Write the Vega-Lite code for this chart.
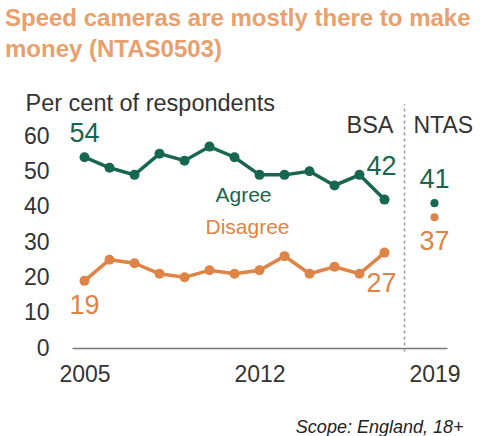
{
  "$schema": "https://vega.github.io/schema/vega-lite/v6.json",
  "width": 375,
  "height": 212,
  "autosize": {"type": "none"},
  "padding": {"left": 72, "top": 136, "right": 34, "bottom": 88},
  "title": {
    "text": ["Speed cameras are mostly there to make", "money (NTAS0503)"],
    "anchor": "start",
    "frame": "group",
    "dx": -67,
    "dy": -19,
    "offset": 10
  },
  "config": {
    "font": "Liberation Sans",
    "view": {"stroke": null},
    "title": {"font": "Liberation Sans", "fontSize": 24, "fontWeight": "bold", "color": "#E9A06C", "lineHeight": 31},
    "axis": {"labelFont": "Liberation Sans", "labelFontSize": 23, "labelColor": "#333333", "grid": false, "ticks": false, "titleFont": "Liberation Sans"}
  },
  "data": {
    "values": [
      {"year": 2005, "value": 54, "series": "Agree", "source": "BSA"},
      {"year": 2006, "value": 51, "series": "Agree", "source": "BSA"},
      {"year": 2007, "value": 49, "series": "Agree", "source": "BSA"},
      {"year": 2008, "value": 55, "series": "Agree", "source": "BSA"},
      {"year": 2009, "value": 53, "series": "Agree", "source": "BSA"},
      {"year": 2010, "value": 57, "series": "Agree", "source": "BSA"},
      {"year": 2011, "value": 54, "series": "Agree", "source": "BSA"},
      {"year": 2012, "value": 49, "series": "Agree", "source": "BSA"},
      {"year": 2013, "value": 49, "series": "Agree", "source": "BSA"},
      {"year": 2014, "value": 50, "series": "Agree", "source": "BSA"},
      {"year": 2015, "value": 46, "series": "Agree", "source": "BSA"},
      {"year": 2016, "value": 49, "series": "Agree", "source": "BSA"},
      {"year": 2017, "value": 42, "series": "Agree", "source": "BSA"},
      {"year": 2019, "value": 41, "series": "Agree", "source": "NTAS"},
      {"year": 2005, "value": 19, "series": "Disagree", "source": "BSA"},
      {"year": 2006, "value": 25, "series": "Disagree", "source": "BSA"},
      {"year": 2007, "value": 24, "series": "Disagree", "source": "BSA"},
      {"year": 2008, "value": 21, "series": "Disagree", "source": "BSA"},
      {"year": 2009, "value": 20, "series": "Disagree", "source": "BSA"},
      {"year": 2010, "value": 22, "series": "Disagree", "source": "BSA"},
      {"year": 2011, "value": 21, "series": "Disagree", "source": "BSA"},
      {"year": 2012, "value": 22, "series": "Disagree", "source": "BSA"},
      {"year": 2013, "value": 26, "series": "Disagree", "source": "BSA"},
      {"year": 2014, "value": 21, "series": "Disagree", "source": "BSA"},
      {"year": 2015, "value": 23, "series": "Disagree", "source": "BSA"},
      {"year": 2016, "value": 21, "series": "Disagree", "source": "BSA"},
      {"year": 2017, "value": 27, "series": "Disagree", "source": "BSA"},
      {"year": 2019, "value": 37, "series": "Disagree", "source": "NTAS"}
    ]
  },
  "encoding": {
    "x": {
      "field": "year", "type": "quantitative",
      "scale": {"domain": [2004.5, 2019.5], "nice": false, "zero": false},
      "axis": {
        "values": [2005, 2012, 2019], "format": "d", "labelFlush": false,
        "labelPadding": 15, "domainColor": "#777777", "domainWidth": 1.5,
        "title": "Scope: England, 18+", "titleFontStyle": "italic", "titleFontWeight": "normal",
        "titleFontSize": 18, "titleColor": "#222222", "titleAnchor": null, "titleAlign": "right",
        "titleBaseline": "middle", "titleX": 391, "titleY": 79
      }
    },
    "y": {
      "field": "value", "type": "quantitative",
      "scale": {"domain": [0, 60], "nice": false},
      "axis": {
        "values": [0, 10, 20, 30, 40, 50, 60], "domain": false, "labelPadding": 23,
        "title": "Per cent of respondents", "titleAngle": 0, "titleAlign": "left",
        "titleBaseline": "alphabetic", "titleX": -47, "titleY": -26, "titleFontSize": 23.5,
        "titleFontWeight": "normal", "titleColor": "#333333", "titleAnchor": null
      }
    },
    "color": {
      "field": "series", "type": "nominal",
      "scale": {"domain": ["Agree", "Disagree"], "range": ["#17664F", "#DE8446"]},
      "legend": null
    }
  },
  "layer": [
    {
      "transform": [{"filter": "datum.year === 2005 && datum.series === 'Agree'"}],
      "mark": {"type": "rule", "strokeDash": [3, 3], "color": "#999999", "strokeWidth": 1.5},
      "encoding": {"x": {"datum": 2017.8}, "y": {"datum": -1}, "y2": {"datum": 69}, "color": {"value": "#999999"}}
    },
    {
      "transform": [{"filter": "datum.source === 'BSA'"}],
      "mark": {"type": "line", "strokeWidth": 3.5},
      "encoding": {"detail": {"field": "source"}}
    },
    {
      "mark": {"type": "point", "filled": true, "opacity": 1},
      "encoding": {
        "size": {"condition": {"test": "datum.source === 'NTAS'", "value": 65}, "value": 100}
      }
    },
    {
      "transform": [{"filter": "datum.series === 'Agree' && (datum.year === 2005 || datum.year === 2019)"}],
      "mark": {"type": "text", "fontSize": 27, "baseline": "middle", "dy": -23},
      "encoding": {"text": {"field": "value", "type": "quantitative"}}
    },
    {
      "transform": [{"filter": "datum.series === 'Agree' && datum.year === 2017"}],
      "mark": {"type": "text", "fontSize": 27, "baseline": "middle", "dy": -33, "dx": -3},
      "encoding": {"text": {"field": "value", "type": "quantitative"}}
    },
    {
      "transform": [{"filter": "datum.series === 'Disagree' && (datum.year === 2005 || datum.year === 2019)"}],
      "mark": {"type": "text", "fontSize": 27, "baseline": "middle", "dy": 25},
      "encoding": {"text": {"field": "value", "type": "quantitative"}}
    },
    {
      "transform": [{"filter": "datum.series === 'Disagree' && datum.year === 2017"}],
      "mark": {"type": "text", "fontSize": 27, "baseline": "middle", "dy": 31, "dx": -3},
      "encoding": {"text": {"field": "value", "type": "quantitative"}}
    },
    {
      "transform": [{"filter": "datum.series === 'Agree' && datum.year === 2011"}],
      "mark": {"type": "text", "fontSize": 21, "baseline": "middle", "dy": 39, "dx": 9},
      "encoding": {"text": {"value": "Agree"}}
    },
    {
      "transform": [{"filter": "datum.series === 'Disagree' && datum.year === 2011"}],
      "mark": {"type": "text", "fontSize": 21, "baseline": "middle", "dy": -46, "dx": 13},
      "encoding": {"text": {"value": "Disagree"}}
    },
    {
      "transform": [{"filter": "datum.year === 2005 && datum.series === 'Agree'"}],
      "mark": {"type": "text", "fontSize": 23.5, "align": "right", "baseline": "alphabetic", "dx": -11, "dy": -3, "color": "#333333"},
      "encoding": {"x": {"datum": 2017.8}, "y": {"datum": 60}, "text": {"value": "BSA"}, "color": {"value": "#333333"}}
    },
    {
      "transform": [{"filter": "datum.year === 2005 && datum.series === 'Agree'"}],
      "mark": {"type": "text", "fontSize": 23, "align": "left", "baseline": "alphabetic", "dx": 9, "dy": -3, "color": "#333333"},
      "encoding": {"x": {"datum": 2017.8}, "y": {"datum": 60}, "text": {"value": "NTAS"}, "color": {"value": "#333333"}}
    }
  ]
}
